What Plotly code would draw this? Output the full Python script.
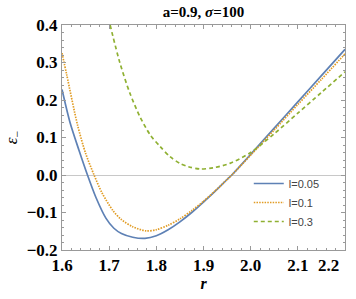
import plotly.graph_objects as go

r_blue = [1.600, 1.617, 1.636, 1.654, 1.672, 1.693, 1.710, 1.726, 1.750, 1.776, 1.800, 1.825, 1.850, 1.875, 1.900, 1.925, 1.950, 1.960, 2.000, 2.050, 2.100, 2.150, 2.200]
e_blue = [0.228, 0.140, 0.066, 0.000, -0.060, -0.115, -0.142, -0.156, -0.166, -0.169, -0.162, -0.146, -0.125, -0.100, -0.072, -0.043, -0.012, 0.000, 0.055, 0.125, 0.195, 0.265, 0.335]

r_orange = [1.600, 1.610, 1.633, 1.650, 1.668, 1.685, 1.708, 1.725, 1.750, 1.778, 1.800, 1.825, 1.850, 1.875, 1.900, 1.925, 1.950, 1.960, 2.000, 2.050, 2.100, 2.150, 2.200]
e_orange = [0.325, 0.267, 0.133, 0.058, 0.000, -0.048, -0.095, -0.118, -0.138, -0.149, -0.146, -0.134, -0.117, -0.095, -0.070, -0.042, -0.012, 0.000, 0.053, 0.120, 0.188, 0.255, 0.323]

r_green = [1.702, 1.723, 1.744, 1.765, 1.787, 1.808, 1.829, 1.850, 1.868, 1.893, 1.920, 1.956, 2.000, 2.050, 2.100, 2.150, 2.200]
e_green = [0.400, 0.298, 0.218, 0.156, 0.107, 0.076, 0.049, 0.031, 0.022, 0.016, 0.019, 0.031, 0.060, 0.110, 0.165, 0.220, 0.275]

labels = ["l=0.05", "l=0.1", "l=0.3"]
x_ticks = [1.6, 1.7, 1.8, 1.9, 2.0, 2.1, 2.2]
x_ticktext = ["1.6", "1.7", "1.8", "1.9", "2.0", "2.1", ""]
last_x_label = "2.2"
y_ticks = [-0.2, -0.1, 0.0, 0.1, 0.2, 0.3, 0.4]
y_ticktext = ["−0.2", "−0.1", "0.0", "0.1", "0.2", "0.3", "0.4"]

fig = go.Figure()
fig.add_trace(go.Scatter(x=r_blue, y=e_blue, mode="lines", name=labels[0],
                         line=dict(color="#5E81B5", width=1.7, shape="spline", smoothing=0.8)))
fig.add_trace(go.Scatter(x=r_orange, y=e_orange, mode="lines", name=labels[1],
                         line=dict(color="#E19C24", width=1.7, dash="1.5px,1.2px", shape="spline", smoothing=0.8)))
fig.add_trace(go.Scatter(x=r_green, y=e_green, mode="lines", name=labels[2],
                         line=dict(color="#8FB032", width=1.7, dash="4px,3px", shape="spline", smoothing=0.8)))

tickfont = dict(family="Liberation Serif", size=17, color="black", weight="bold")
common = dict(showgrid=False, showline=True, linecolor="#999", linewidth=1, mirror="allticks",
              ticks="inside", ticklen=4, tickcolor="#999", tickfont=tickfont,
              minor=dict(ticks="inside", ticklen=2, dtick=0.02, tickcolor="#999"))
fig.update_layout(
    width=356, height=299,
    margin=dict(l=62, r=11, t=25, b=49),
    paper_bgcolor="white", plot_bgcolor="white",
    title=dict(text="<b>a=0.9, <i>σ</i>=100</b>", x=(62 + 345) / 2 / 356, xanchor="center",
               y=1 - 12 / 299, yanchor="middle",
               font=dict(family="Liberation Serif", size=15, color="black")),
    showlegend=True,
    legend=dict(x=0.66, y=0.36, xanchor="left", yanchor="top",
                bgcolor="rgba(0,0,0,0)", font=dict(family="Liberation Sans", size=11, color="#444"),
                tracegroupgap=0, itemwidth=30),
    xaxis=dict(range=[1.6, 2.2], tickvals=x_ticks, ticktext=x_ticktext, zeroline=False,
               title=dict(text="<b><i>r</i></b>", font=dict(family="Liberation Serif", size=16, color="black"),
                          standoff=0), **common),
    yaxis=dict(range=[-0.2, 0.4], tickvals=y_ticks, ticktext=y_ticktext,
               zeroline=True, zerolinecolor="#c8c8c8", zerolinewidth=1,
               title=dict(text="<i>ε</i><sub>−</sub>", font=dict(family="Liberation Serif", size=17, color="black"),
                          standoff=4), **common),
    annotations=[dict(text=last_x_label, x=x_ticks[-1], xref="x", xanchor="right", xshift=-4,
                      y=0, yref="paper", yanchor="top", yshift=-4, showarrow=False,
                      font=tickfont)],
)

fig.write_html("out.html", config={"displayModeBar": False},
               post_script="document.body.style.margin='0';document.body.style.overflow='hidden';")
